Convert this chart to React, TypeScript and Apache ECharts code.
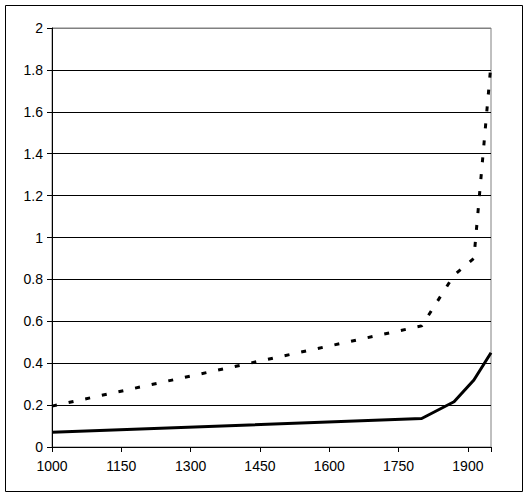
import React, { useEffect, useRef } from "react";
import * as echarts from "echarts";

const years = [1000, 1800, 1870, 1913, 1950];
const dashedValues = [0.195, 0.578, 0.82, 0.9, 1.83];
const solidValues = [0.07, 0.136, 0.216, 0.32, 0.45];
const yTickLabels = ["0", "0.2", "0.4", "0.6", "0.8", "1", "1.2", "1.4", "1.6", "1.8", "2"];
const xTickLabels = ["1000", "1150", "1300", "1450", "1600", "1750", "1900"];

export default function App() {
  const ref = useRef<HTMLDivElement>(null);
  useEffect(() => {
    document.body.style.margin = "0";
    const chart = echarts.init(ref.current!, null, { renderer: "svg" });
    const font = "'Liberation Sans', Arial, sans-serif";
    const splitColors = yTickLabels.map((_, i) => (i === yTickLabels.length - 1 ? "#808080" : "#000000"));
    chart.setOption({
      animation: false,
      backgroundColor: "#ffffff",
      grid: {
        left: 52,
        top: 28,
        right: 38,
        bottom: 53,
        show: true,
        borderColor: "#808080",
        borderWidth: 1,
      },
      graphic: [
        {
          type: "rect",
          shape: { x: 5.5, y: 5.5, width: 517, height: 486 },
          style: { fill: "none", stroke: "#000", lineWidth: 1 },
          silent: true,
        },
      ],
      xAxis: {
        type: "value",
        min: 1000,
        max: 1950,
        interval: 150,
        axisLine: { show: true, lineStyle: { color: "#000", width: 1 } },
        axisTick: { show: true, length: 5, lineStyle: { color: "#000" } },
        splitLine: { show: false },
        axisLabel: {
          color: "#000",
          fontFamily: font,
          fontSize: 14,
          margin: 12,
          formatter: (v: number) => {
            const s = String(v);
            return xTickLabels.includes(s) ? s : "";
          },
        },
      },
      yAxis: {
        type: "value",
        min: 0,
        max: 2,
        interval: 0.2,
        axisLine: { show: true, lineStyle: { color: "#000", width: 1 } },
        axisTick: { show: true, length: 5, lineStyle: { color: "#000" } },
        splitLine: { show: true, lineStyle: { color: splitColors, width: 1 } },
        axisLabel: {
          color: "#000",
          fontFamily: font,
          fontSize: 14,
          margin: 9,
          formatter: (v: number) => {
            const idx = Math.round(v / 0.2);
            return yTickLabels[idx] ?? "";
          },
        },
      },
      series: [
        {
          type: "line",
          data: years.map((y, i) => [y, dashedValues[i]]),
          showSymbol: false,
          lineStyle: { color: "#000", width: 3, type: [5, 12] },
          z: 3,
        },
        {
          type: "line",
          data: years.map((y, i) => [y, solidValues[i]]),
          showSymbol: false,
          lineStyle: { color: "#000", width: 3, type: "solid" },
          z: 3,
        },
      ],
    });
    return () => chart.dispose();
  }, []);
  return <div ref={ref} style={{ position: "absolute", left: 0, top: 0, width: 529, height: 500 }} />;
}
